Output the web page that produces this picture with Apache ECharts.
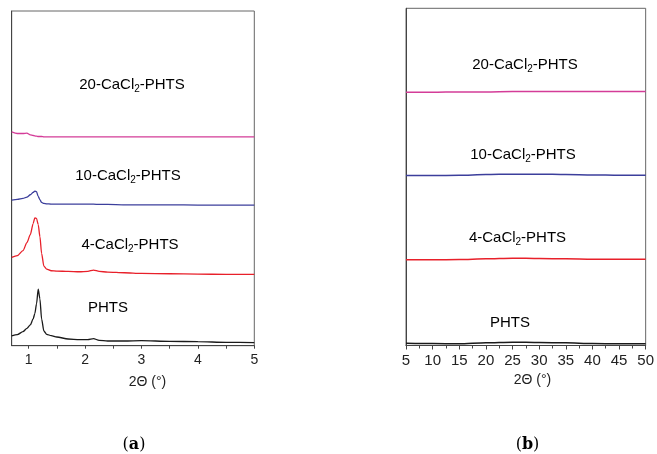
<!DOCTYPE html>
<html>
<head>
<meta charset="utf-8">
<script src="https://cdn.jsdelivr.net/npm/echarts@6/dist/echarts.min.js"></script>
<style>
  html, body { margin: 0; padding: 0; background: #fff; }
  #main { width: 657px; height: 454px; }
</style>
</head>
<body>
<div id="main"></div>
<script>
// panel (a): small-angle, 2theta 0.7 - 5
const xSmall = [0.7, 0.8, 0.9, 0.97, 1.03, 1.08, 1.11, 1.14, 1.17, 1.2, 1.23, 1.27, 1.32, 1.4, 1.5, 1.7, 1.9, 2.05, 2.15, 2.25, 2.4, 2.7, 3.0, 3.5, 4.0, 4.5, 5.0]
const phtsSmall = [2.9, 3.3, 4.2, 5.2, 6.2, 8.0, 9.6, 12.5, 16.9, 14.0, 8.0, 4.4, 3.4, 3.0, 2.6, 2.0, 1.8, 1.8, 2.1, 1.6, 1.4, 1.4, 1.5, 1.3, 1.2, 1.0, 0.9]
const ca4Small = [26.4, 26.9, 28.4, 30.8, 33.2, 36.5, 38.2, 38.0, 36.2, 32.6, 27.6, 23.8, 22.9, 22.4, 22.3, 22.2, 22.1, 22.2, 22.6, 22.2, 22.0, 21.8, 21.6, 21.5, 21.4, 21.3, 21.3]
const ca10Small = [43.5, 43.7, 44.0, 44.4, 45.1, 45.8, 46.2, 46.0, 44.6, 43.6, 42.8, 42.5, 42.4, 42.3, 42.3, 42.3, 42.3, 42.3, 42.3, 42.2, 42.2, 42.1, 42.1, 42.1, 42.0, 42.0, 42.0]
const ca20Small = [63.9, 63.4, 63.4, 63.5, 63.0, 62.8, 62.7, 62.6, 62.5, 62.5, 62.5, 62.4, 62.4, 62.4, 62.4, 62.4, 62.4, 62.4, 62.4, 62.4, 62.4, 62.4, 62.4, 62.4, 62.4, 62.4, 62.4]
const smallTicks = [1, 2, 3, 4, 5]
const smallMinor = [1, 1.5, 2, 2.5, 3, 3.5, 4, 4.5, 5]

// panel (b): wide-angle, 2theta 5 - 50
const xWide = [5, 10, 15, 20, 25, 30, 35, 40, 45, 50]
const phtsWide = [0.7, 0.6, 0.5, 0.8, 1.0, 0.9, 0.8, 0.6, 0.5, 0.5]
const ca4Wide = [25.4, 25.4, 25.5, 25.7, 25.9, 25.8, 25.7, 25.6, 25.6, 25.6]
const ca10Wide = [50.4, 50.4, 50.5, 50.7, 50.8, 50.8, 50.7, 50.6, 50.5, 50.5]
const ca20Wide = [75.1, 75.1, 75.2, 75.2, 75.3, 75.3, 75.3, 75.3, 75.3, 75.3]

const FONT = '"Liberation Sans", Arial, sans-serif'
const colors = { phts: '#1a1a1a', ca4: '#e8202a', ca10: '#3c3f9c', ca20: '#d43c98' }

const pair = (xs, ys) => xs.map((x, i) => [x, ys[i]])

const chart = echarts.init(document.getElementById('main'))

const lineSeries = (name, xi, xs, ys, color, width) => ({
  name,
  type: 'line',
  xAxisIndex: xi,
  yAxisIndex: xi,
  data: pair(xs, ys),
  showSymbol: false,
  smooth: 0.25,
  smoothMonotone: 'x',
  lineStyle: { color, width },
  animation: false
})

const label = (x, y, pre) => ({
  type: 'text',
  x,
  y,
  style: {
    text: pre ? `{a|${pre}-CaCl}{s|2}{a|-PHTS}` : '{a|PHTS}',
    align: 'center',
    verticalAlign: 'middle',
    rich: {
      a: { fontFamily: FONT, fontSize: 15, color: '#222', lineHeight: 19 },
      s: { fontFamily: FONT, fontSize: 10, color: '#222', lineHeight: 10, verticalAlign: 'bottom' }
    }
  }
})

const axisName = (x, y) => ({
  type: 'text',
  x,
  y,
  style: { text: '2Θ (°)', font: `14px ${FONT}`, fill: '#222', align: 'center', verticalAlign: 'middle' }
})

const caption = (x, y, ch) => ({
  type: 'text',
  x,
  y,
  style: {
    text: `{n|(}{b|${ch}}{n|)}`,
    align: 'center',
    verticalAlign: 'middle',
    rich: {
      n: { fontFamily: '"DejaVu Serif", "Liberation Serif", serif', fontSize: 16, color: '#111' },
      b: { fontFamily: '"DejaVu Serif", "Liberation Serif", serif', fontSize: 16, fontWeight: 'bold', color: '#111' }
    }
  }
})

const option = {
  backgroundColor: '#fff',
  animation: false,
  grid: [
    { left: 11.7, right: 402.7, top: 11, bottom: 108.3, show: true, borderColor: '#666', borderWidth: 1 },
    { left: 406, right: 7, top: 8.3, bottom: 108.5, show: true, borderColor: '#666', borderWidth: 1 }
  ],
  xAxis: [
    {
      type: 'value',
      gridIndex: 0,
      min: 0.7,
      max: 5,
      axisLine: { onZero: false, lineStyle: { color: '#444', width: 1 } },
      axisTick: { show: true, customValues: smallMinor, length: 3, lineStyle: { color: '#444' } },
      axisLabel: { customValues: smallTicks, fontFamily: FONT, fontSize: 14, color: '#222', margin: 7 },
      splitLine: { show: false }
    },
    {
      type: 'value',
      gridIndex: 1,
      min: 5,
      max: 50,
      interval: 5,
      axisLine: { onZero: false, lineStyle: { color: '#444', width: 1 } },
      axisTick: { show: true, length: 4, lineStyle: { color: '#444' } },
      minorTick: { show: true, splitNumber: 2, length: 3, lineStyle: { color: '#444' } },
      axisLabel: { fontFamily: FONT, fontSize: 15, color: '#222', margin: 8, showMinLabel: true, showMaxLabel: true },
      splitLine: { show: false }
    }
  ],
  yAxis: [
    {
      type: 'value', gridIndex: 0, min: 0, max: 100,
      axisLine: { show: true, lineStyle: { color: '#444' } },
      axisTick: { show: false }, axisLabel: { show: false }, splitLine: { show: false }
    },
    {
      type: 'value', gridIndex: 1, min: 0, max: 100,
      axisLine: { show: true, lineStyle: { color: '#444' } },
      axisTick: { show: false }, axisLabel: { show: false }, splitLine: { show: false }
    }
  ],
  series: [
    lineSeries('PHTS', 0, xSmall, phtsSmall, colors.phts, 1.3),
    lineSeries('4-CaCl2-PHTS', 0, xSmall, ca4Small, colors.ca4, 1.3),
    lineSeries('10-CaCl2-PHTS', 0, xSmall, ca10Small, colors.ca10, 1.3),
    lineSeries('20-CaCl2-PHTS', 0, xSmall, ca20Small, colors.ca20, 1.3),
    lineSeries('PHTS', 1, xWide, phtsWide, colors.phts, 1.5),
    lineSeries('4-CaCl2-PHTS', 1, xWide, ca4Wide, colors.ca4, 1.5),
    lineSeries('10-CaCl2-PHTS', 1, xWide, ca10Wide, colors.ca10, 1.5),
    lineSeries('20-CaCl2-PHTS', 1, xWide, ca20Wide, colors.ca20, 1.5)
  ],
  graphic: [
    label(132, 85, '20'),
    label(128, 176, '10'),
    label(130, 245, '4'),
    label(108, 308, ''),
    label(525, 65, '20'),
    label(523, 155, '10'),
    label(517.5, 238, '4'),
    label(510, 323, ''),
    axisName(147.5, 382),
    axisName(532.5, 380),
    caption(134, 445, 'a'),
    caption(527.5, 445, 'b')
  ]
}

chart.setOption(option)
</script>
</body>
</html>
